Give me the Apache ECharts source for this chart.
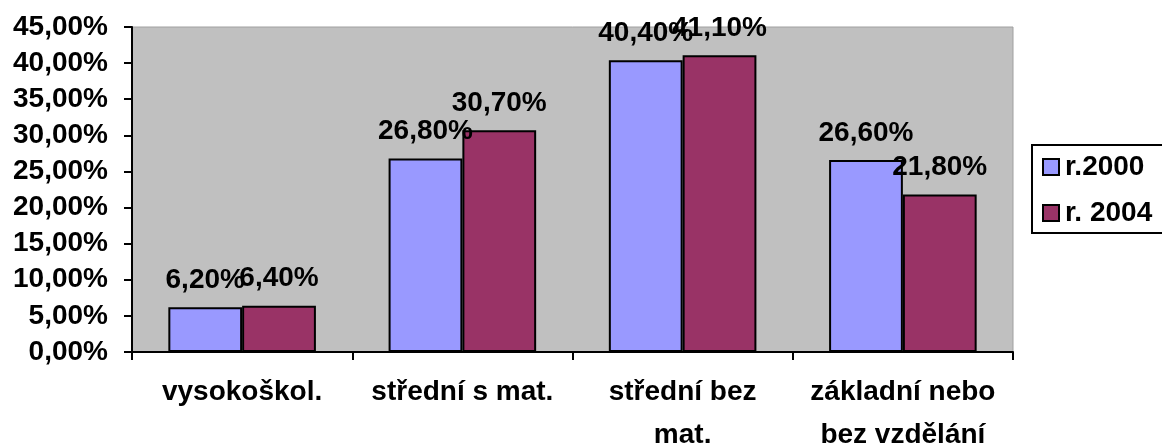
<!DOCTYPE html>
<html>
<head>
<meta charset="utf-8">
<script src="https://cdn.jsdelivr.net/npm/echarts@6/dist/echarts.min.js"></script>
<style>
  html, body { margin: 0; padding: 0; background: #fff; }
  #chart { width: 1162px; height: 443px; }
</style>
</head>
<body>
<div id="chart"></div>
<script>
const categories = ["vysokoškol.", "střední s mat.", "střední bez\nmat.", "základní nebo\nbez vzdělání"];
const series2000 = [6.2, 26.8, 40.4, 26.6];
const series2004 = [6.4, 30.7, 41.1, 21.8];
const seriesNames = ["r.2000", "r. 2004"];

const fmt = (v) => v.toFixed(2).replace(".", ",") + "%";
const font = "Liberation Sans, Arial, sans-serif";

var myChart = echarts.init(document.getElementById("chart"));
var barLabel = {
  show: true,
  position: "top",
  distance: 13,
  fontSize: 28,
  fontWeight: "bold",
  color: "#000",
  fontFamily: font,
  formatter: (p) => fmt(p.value),
};
var option = {
  animation: false,
  textStyle: { fontFamily: font },
  grid: {
    left: 132,
    right: 149,
    top: 27,
    bottom: 91,
    outerBoundsMode: "none",
    show: true,
    backgroundColor: "#C0C0C0",
    borderColor: "#A0A0A0",
    borderWidth: 1,
  },
  legend: {
    orient: "vertical",
    left: 1032,
    top: 145,
    padding: [8, 12, 6, 10],
    itemGap: 18,
    itemWidth: 16,
    itemHeight: 16,
    borderColor: "#000",
    borderWidth: 2,
    backgroundColor: "#fff",
    icon: "rect",
    textStyle: { fontSize: 28, fontWeight: "bold", color: "#000", fontFamily: font, padding: [0, 0, 0, 1] },
    data: seriesNames,
  },
  xAxis: {
    type: "category",
    data: categories,
    axisLine: { lineStyle: { color: "#000", width: 2 } },
    axisTick: { show: true, length: 8, lineStyle: { color: "#000", width: 2 } },
    axisLabel: {
      fontSize: 28,
      fontWeight: "bold",
      color: "#000",
      fontFamily: font,
      margin: 19,
      lineHeight: 43,
      interval: 0,
    },
  },
  yAxis: {
    type: "value",
    min: 0,
    max: 45,
    interval: 5,
    splitLine: { show: false },
    axisLine: { show: true, lineStyle: { color: "#000", width: 2 } },
    axisTick: { show: true, length: 8, lineStyle: { color: "#000", width: 2 } },
    axisLabel: {
      fontSize: 28,
      fontWeight: "bold",
      color: "#000",
      fontFamily: font,
      margin: 24,
      formatter: fmt,
    },
  },
  series: [
    {
      name: seriesNames[0],
      type: "bar",
      data: series2000,
      barGap: "0%",
      barCategoryGap: "33%",
      itemStyle: { color: "#9999FF", borderColor: "#000", borderWidth: 2 },
      label: barLabel,
    },
    {
      name: seriesNames[1],
      type: "bar",
      data: series2004,
      itemStyle: { color: "#993366", borderColor: "#000", borderWidth: 2 },
      label: barLabel,
    },
  ],
};
option && myChart.setOption(option);
</script>
</body>
</html>
